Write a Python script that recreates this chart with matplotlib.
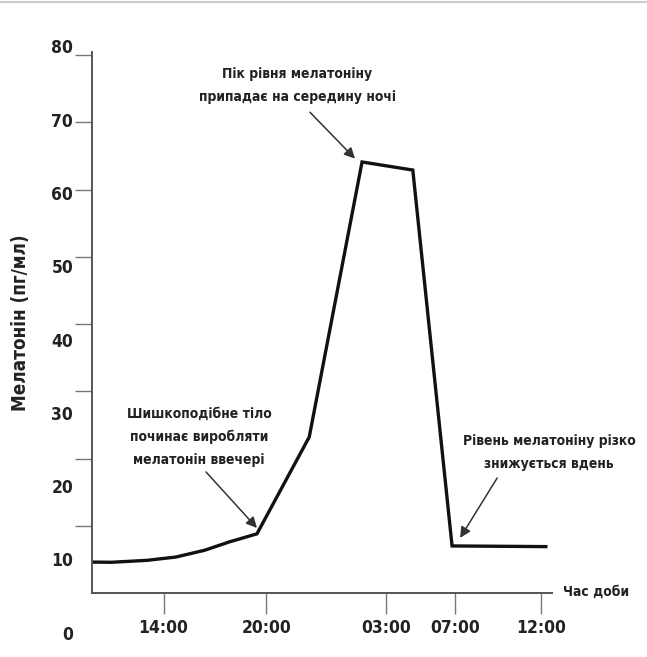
import matplotlib
matplotlib.use('Agg')
import matplotlib.pyplot as plt
from matplotlib.lines import Line2D

# time of day in hours (03:00 and later written as 27, 31, 36 ...)
hours = [9.83, 10.97, 13.05, 14.72, 16.39, 17.84, 19.45, 22.5, 25.58, 28.54, 30.83, 36.3]
melatonin = [4.6, 4.57, 4.86, 5.35, 6.35, 7.6, 8.8, 23.2, 64.1, 62.9, 7.0, 6.9]

xtick_hours = [14, 20, 27, 31, 36]
xtick_labels = ['14:00', '20:00', '03:00', '07:00', '12:00']
ytick_values = [10, 20, 30, 40, 50, 60, 70, 80]
ylabel_values = [0, 10, 20, 30, 40, 50, 60, 70, 80]

plt.rcParams['font.family'] = ['DejaVu Sans']
plt.rcParams['font.stretch'] = 'condensed'
txt = '#222222'
axc = '#555555'

fig = plt.figure(figsize=(6.47, 6.57), dpi=100)
ax = fig.add_axes([0.1422, 0.0974, 0.711, 0.8234])

ax.plot(hours, melatonin, color='#111111', lw=2.4, solid_joinstyle='miter')

ax.set_xlim(9.83, 36.66)
ax.set_ylim(0, 80.45)

for s in ['top', 'right']:
    ax.spines[s].set_visible(False)
for s in ['left', 'bottom']:
    ax.spines[s].set_color(axc)
    ax.spines[s].set_linewidth(1.4)

ax.set_xticks(xtick_hours)
ax.set_xticklabels(xtick_labels, fontsize=12.5, fontweight='bold', color=txt)
ax.tick_params(axis='x', direction='out', length=15, width=1.0, color='#777777', pad=4)

ax.set_yticks(ytick_values)
ax.set_yticklabels([])
ax.tick_params(axis='y', direction='out', length=12, width=1.0, color='#777777')

# y labels sit a little off the tick marks, as in the original artwork
for v in ylabel_values:
    ax.text(-0.041, 81 - (80 - v) * 1.09, str(v), transform=ax.get_yaxis_transform(),
            ha='right', va='center', fontsize=12.5, fontweight='bold', color=txt)

fig.text(0.031, 1 - 323 / 657, 'Мелатонін (пг/мл)', rotation=90, ha='center', va='center',
         fontsize=13.5, fontweight='bold', color=txt)
fig.text(596 / 647, 1 - 592 / 657, 'Час доби', ha='center', va='center',
         fontsize=10, fontweight='bold', color=txt)

arrow = dict(arrowstyle='-|>', color='#333333', lw=1.1, mutation_scale=16,
             shrinkA=0, shrinkB=0)
note = dict(ha='center', va='center', fontsize=10, fontweight='bold', color=txt,
            linespacing=1.8)

ax.text(21.8, 75.5, 'Пік рівня мелатоніну\nприпадає на середину ночі', **note)
ax.annotate('', xy=(25.17, 64.6), xytext=(22.54, 71.5), arrowprops=arrow)

ax.text(16.07, 23.2, 'Шишкоподібне тіло\nпочинає виробляти\nмелатонін ввечері', **note)
ax.annotate('', xy=(19.45, 9.67), xytext=(16.48, 18.0), arrowprops=arrow)

ax.text(36.5, 20.9, 'Рівень мелатоніну різко\nзнижується вдень', clip_on=False, **note)
ax.annotate('', xy=(31.3, 8.2), xytext=(33.46, 17.1), arrowprops=arrow)

fig.add_artist(Line2D([0, 1], [0.997, 0.997], color='#cccccc', lw=1.5))

fig.savefig('out.png', dpi=100, facecolor='white')
